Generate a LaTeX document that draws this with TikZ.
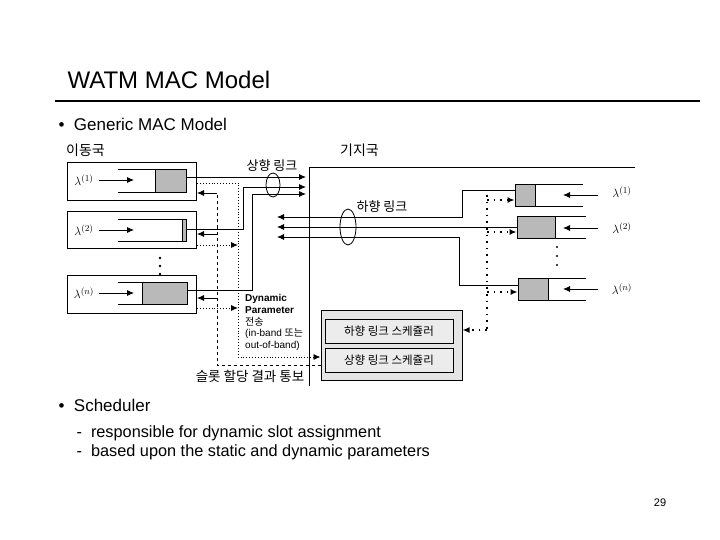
\documentclass[tikz,border=0pt]{standalone}
\usepackage{fontspec}
\setmainfont{Liberation Sans}
\newfontfamily\kr{Noto Sans CJK KR}
\usetikzlibrary{arrows.meta}
\begin{document}
\begin{tikzpicture}[x=1pt,y=-1pt,
 box/.style={draw,line width=0.8pt},
 gq/.style={draw,fill=gray!55,line width=0.8pt},
 ln/.style={line width=0.8pt},
 arr/.style={ln,-{Latex[length=7pt,width=6pt]}},
 dt/.style={line width=1.6pt,dash pattern=on 1.6pt off 5pt},
 dsh/.style={line width=0.8pt,dashed},
 kt/.style={font=\kr\fontsize{13}{14}\selectfont,inner sep=0pt},
 lam/.style={font=\fontsize{13}{14}\selectfont,inner sep=0pt}]
\useasboundingbox (0,0) rectangle (720,540);
\node[anchor=west,font=\fontsize{24}{26}\selectfont] (title) at (64,80) {WATM MAC Model};
\draw[line width=1.8pt] (55,101) -- (700,101);
\node[anchor=west,font=\fontsize{17}{18}\selectfont] (b1) at (55,124) {\textbullet\ \ Generic MAC Model};
\node[kt,anchor=west,font=\kr\fontsize{14}{15}\selectfont] (ms) at (66,150) {이동국};
\node[kt,anchor=west,font=\kr\fontsize{14}{15}\selectfont] (bs) at (340,150) {기지국};
% mobile boxes
\node[box,minimum width=129,minimum height=38,inner sep=0] (m1) at (131.5,181) {};
\node[box,minimum width=129,minimum height=37,inner sep=0] (m2) at (131.5,229.5) {};
\node[box,minimum width=129,minimum height=38,inner sep=0] (mn) at (131.5,294) {};
\draw[ln] (118,169) -- (155,169) (118,192) -- (155,192);
\node[gq,minimum width=31,minimum height=23,inner sep=0] (q1) at (170.5,180.5) {};
\draw[ln] (118,219) -- (182,219) (118,241) -- (182,241);
\node[gq,minimum width=4,minimum height=22,inner sep=0] (q2) at (184,230) {};
\draw[ln] (118,282) -- (142,282) (118,304) -- (142,304);
\node[gq,minimum width=45,minimum height=22,inner sep=0] (qn) at (164.5,293) {};
\node[lam] (l1) at (84,180) {$\lambda^{(1)}$};
\node[lam] (l2) at (84,230) {$\lambda^{(2)}$};
\node[lam] (ln) at (84,293) {$\lambda^{(n)}$};
\draw[arr] (99,180) -- (134,180);
\draw[arr] (99,230) -- (134,230);
\draw[arr] (99,293) -- (134,293);
\foreach \y in {258,266,274} \fill (160,\y) circle (1.4);
% base station
\coordinate (bstl) at (309,167);
\draw[ln] (635,167) -- (bstl) -- (309,386);
% uplink
\draw[arr] (186,177) -- (306,177);
\draw[arr] (186,229) -- (243,229) -- (243,187) -- (306,187);
\draw[arr] (187,290) -- (252,290) -- (252,194) -- (306,194);
\draw[ln] (273,185) ellipse (7 and 12);
\node[kt] (ul) at (272,166) {상향 링크};
% right queues
\draw[ln] (535,184) -- (583,184) (535,206) -- (583,206);
\node[gq,minimum width=20,minimum height=22,inner sep=0] (r1) at (525,195) {};
\draw[ln] (555,216) -- (586,216) (555,238) -- (586,238);
\node[gq,minimum width=38,minimum height=22,inner sep=0] (r2) at (536,227) {};
\draw[ln] (548,278) -- (586,278) (548,300) -- (586,300);
\node[gq,minimum width=30,minimum height=22,inner sep=0] (rn) at (533,289) {};
\node[lam] (rl1) at (622,192) {$\lambda^{(1)}$};
\node[lam] (rl2) at (622,228) {$\lambda^{(2)}$};
\node[lam] (rln) at (622,289) {$\lambda^{(n)}$};
\draw[arr] (598,195) -- (563,195);
\draw[arr] (598,228) -- (563,228);
\draw[arr] (598,289) -- (563,289);
\foreach \y in {247,256,265} \fill (557,\y) circle (1.2);
% downlink
\draw[arr] (515,190) -- (462,190) -- (462,217) -- (277,217);
\draw[arr] (517,227) -- (277,227);
\draw[arr] (518,285) -- (459,285) -- (459,237) -- (277,237);
\draw[ln] (348,227) ellipse (8 and 18);
\node[kt] (dl) at (382,207) {하향 링크};
% scheduler
\node[draw,fill=gray!20,line width=1pt,minimum width=141,minimum height=70,inner sep=0] (sch) at (391.5,345) {};
\node[draw,fill=gray!15,minimum width=128,minimum height=24,inner sep=0,kt,font=\kr\fontsize{11.5}{12}\selectfont] (dsch) at (389,331) {하향 링크 스케쥴러};
\node[draw,fill=gray!15,minimum width=128,minimum height=24,inner sep=0,kt,font=\kr\fontsize{11.5}{12}\selectfont] (usch) at (389,360) {상향 링크 스케쥴리};
% right dotted
\draw[dt] (487,195) -- (487,330);
\draw[dt,-{Latex[length=7pt,width=6pt]}] (487,200) -- (r1.west|-0,200);
\draw[dt,-{Latex[length=7pt,width=6pt]}] (487,232) -- (r2.west|-0,232);
\draw[dt,-{Latex[length=7pt,width=6pt]}] (487,292) -- (rn.west|-0,292);
\draw[dt,-{Latex[length=7pt,width=6pt]}] (487,330) -- (sch.east|-0,330);
% left dotted
\draw[line width=0.9pt,dotted,-{Latex[length=7pt,width=6pt]}] (197,183) -- (238,183) -- (238,357) -- (sch.west|-0,357);
\draw[line width=0.9pt,dotted,-{Latex[length=7pt,width=6pt]}] (197,245) -- (238,245);
\draw[line width=0.9pt,dotted,-{Latex[length=7pt,width=6pt]}] (197,308) -- (238,308);
% dashed
\draw[dsh] (sch.west|-0,365) -- (217,365) -- (217,193);
\draw[ln,-{Latex[length=7pt,width=6pt]}] (217,193) -- (197,193);
\draw[ln,-{Latex[length=7pt,width=6pt]}] (217,234) -- (197,234);
\draw[ln,-{Latex[length=7pt,width=6pt]}] (217,298) -- (197,298);
\node[anchor=north west,align=left,inner sep=0,font=\fontsize{10}{11.8}\selectfont] (dp) at (245,294)
 {\textbf{Dynamic}\\\textbf{Parameter}\\{\kr 전송}\\(in-band {\kr 또는}\\out-of-band)};
\node[kt,font=\kr\fontsize{13.5}{14}\selectfont] (slot) at (250,376) {슬롯 할당 결과 통보};
% bottom
\node[anchor=west,font=\fontsize{17}{18}\selectfont] (b2) at (55,405) {\textbullet\ \ Scheduler};
\node[anchor=west,font=\fontsize{16.3}{17}\selectfont] (t1) at (73,433) {-\ \ responsible for dynamic slot assignment};
\node[anchor=west,font=\fontsize{16.3}{17}\selectfont] (t2) at (73,452) {-\ \ based upon the static and dynamic parameters};
\node[font=\fontsize{11}{12}\selectfont\rmfamily] (pg) at (660,503) {29};
\end{tikzpicture}
\end{document}
